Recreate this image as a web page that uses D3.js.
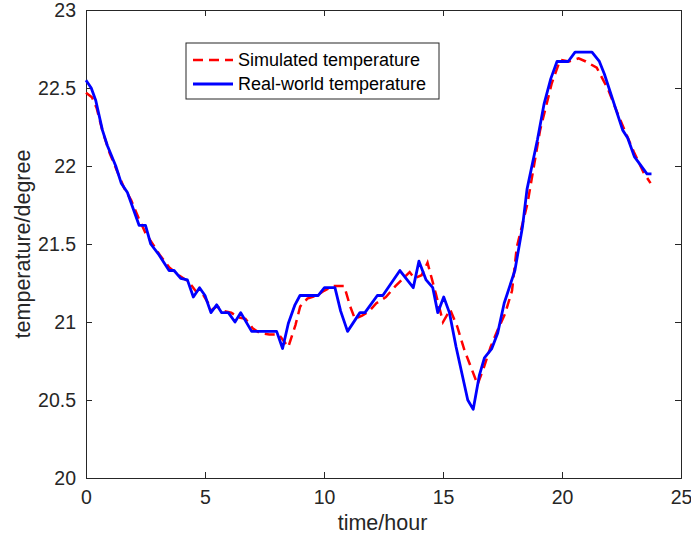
<!DOCTYPE html>
<html><head><meta charset="utf-8">
<script src="https://cdn.jsdelivr.net/npm/d3@7"></script>
<style>body{margin:0;background:#fff}svg{display:block}</style>
</head><body><svg id="c" width="691" height="541"></svg>
<script>
const seriesNames = ["Simulated temperature", "Real-world temperature"];
const xTicks = [0, 5, 10, 15, 20, 25];
const yTicks = [20, 20.5, 21, 21.5, 22, 22.5, 23];

const realT = [0,0.22,0.41,0.69,0.9,1.25,1.48,1.74,2.23,2.5,2.72,3.07,3.49,3.7,3.98,4.26,4.51,4.77,5.0,5.25,5.49,5.7,5.98,6.26,6.5,6.96,8.01,8.26,8.5,8.78,8.99,9.76,10.02,10.46,10.7,10.99,11.51,11.72,12.24,12.47,13.19,13.75,13.99,14.29,14.57,14.78,15.03,15.27,15.55,16.04,16.27,16.53,16.74,17.05,17.3,17.57,18.02,18.34,18.53,18.97,19.25,19.53,19.79,20.26,20.55,21.26,21.57,21.78,22.55,22.76,23.04,23.57,23.76];
const realV = [22.55,22.5,22.42,22.23,22.13,22.0,21.89,21.83,21.62,21.62,21.5,21.43,21.33,21.33,21.28,21.27,21.16,21.22,21.17,21.06,21.11,21.06,21.06,21.0,21.06,20.94,20.94,20.83,20.99,21.11,21.17,21.17,21.22,21.22,21.07,20.94,21.06,21.06,21.17,21.17,21.33,21.22,21.39,21.27,21.22,21.06,21.16,21.06,20.84,20.5,20.44,20.66,20.77,20.83,20.93,21.12,21.33,21.61,21.85,22.17,22.4,22.56,22.67,22.67,22.73,22.73,22.67,22.59,22.23,22.18,22.06,21.95,21.95];

const simT = [0,0.25,0.45,0.7,1.0,1.3,1.6,1.9,2.2,2.5,2.8,3.1,3.5,3.9,4.3,4.6,4.9,5.3,5.5,5.8,6.1,6.4,6.7,7.0,7.3,7.7,8.1,8.3,8.5,8.8,9.0,9.3,9.7,10.0,10.4,10.85,11.1,11.3,11.6,11.9,12.2,12.6,13.0,13.6,13.8,14.1,14.35,14.7,15.0,15.3,15.6,15.9,16.2,16.45,16.7,17.0,17.3,17.6,17.9,18.1,18.55,19.08,19.57,19.92,20.3,20.7,21.0,21.46,21.94,22.3,22.6,23.02,23.42,23.72];
const simV = [22.47,22.44,22.37,22.22,22.08,21.97,21.86,21.78,21.67,21.57,21.5,21.43,21.35,21.3,21.26,21.2,21.18,21.08,21.1,21.07,21.06,21.03,21.02,20.96,20.93,20.92,20.92,20.88,20.84,20.98,21.1,21.15,21.17,21.2,21.23,21.23,21.1,21.02,21.04,21.07,21.12,21.16,21.23,21.32,21.28,21.3,21.38,21.18,21.0,21.08,20.97,20.82,20.7,20.6,20.7,20.84,20.95,21.05,21.2,21.48,21.76,22.23,22.53,22.68,22.67,22.69,22.67,22.63,22.49,22.35,22.24,22.09,21.96,21.89];

const svg = d3.select("#c");
const L = 86, R = 681, T = 10, B = 478;
const x = d3.scaleLinear().domain([0, 25]).range([L, R]);
const y = d3.scaleLinear().domain([20, 23]).range([B, T]);
const axisColor = "#262626";
const font = "Liberation Sans, Arial, sans-serif";

svg.append("rect").attr("x", L).attr("y", T).attr("width", R - L).attr("height", B - T).attr("fill", "#fff");

function styleAxis(g, hideLabels) {
  g.select(".domain").attr("stroke", axisColor).attr("stroke-width", 1);
  g.selectAll(".tick line").attr("stroke", axisColor).attr("stroke-width", 1);
  g.selectAll(".tick text").attr("fill", axisColor).style("font-family", font).style("font-size", "19.5px");
  if (hideLabels) g.selectAll(".tick text").remove();
}
const xb = svg.append("g").attr("transform", `translate(0,${B})`)
  .call(d3.axisBottom(x).tickValues(xTicks).tickSize(-6).tickPadding(12).tickFormat(d3.format("d")));
styleAxis(xb);
const xt = svg.append("g").attr("transform", `translate(0,${T})`)
  .call(d3.axisTop(x).tickValues(xTicks).tickSize(-6));
styleAxis(xt, true);
const yl = svg.append("g").attr("transform", `translate(${L},0)`)
  .call(d3.axisLeft(y).tickValues(yTicks).tickSize(-6).tickPadding(10).tickFormat(d => String(d)));
styleAxis(yl);
const yr = svg.append("g").attr("transform", `translate(${R},0)`)
  .call(d3.axisRight(y).tickValues(yTicks).tickSize(-6));
styleAxis(yr, true);

const simData = simT.map((t, i) => [t, simV[i]]);
const realData = realT.map((t, i) => [t, realV[i]]);
const line = d3.line().x(d => x(d[0])).y(d => y(d[1]));

svg.append("path").datum(simData).attr("d", line).attr("fill", "none")
  .attr("stroke", "#ff0000").attr("stroke-width", 2.5).attr("stroke-dasharray", "10,6");
svg.append("path").datum(realData).attr("d", line).attr("fill", "none")
  .attr("stroke", "#0000ff").attr("stroke-width", 2.8).attr("stroke-linejoin", "round");

svg.append("text").attr("x", (L + R) / 2 - 1).attr("y", 530).attr("text-anchor", "middle")
  .attr("fill", axisColor).style("font-family", font).style("font-size", "21.5px").text("time/hour");
svg.append("text").attr("transform", `translate(30,${(T + B) / 2}) rotate(-90)`).attr("text-anchor", "middle")
  .attr("fill", axisColor).style("font-family", font).style("font-size", "21.5px").text("temperature/degree");

const lg = svg.append("g");
lg.append("rect").attr("x", 186).attr("y", 43).attr("width", 253).attr("height", 56)
  .attr("fill", "#fff").attr("stroke", axisColor).attr("stroke-width", 1);
const rows = [
  {name: seriesNames[0], color: "#ff0000", dash: "10,6", w: 2.5, cy: 60},
  {name: seriesNames[1], color: "#0000ff", dash: null, w: 2.8, cy: 84}
];
rows.forEach(r => {
  lg.append("line").attr("x1", 193).attr("x2", 233).attr("y1", r.cy).attr("y2", r.cy)
    .attr("stroke", r.color).attr("stroke-width", r.w).attr("stroke-dasharray", r.dash);
  lg.append("text").attr("x", 238).attr("y", r.cy + 6).attr("fill", "#000")
    .style("font-family", font).style("font-size", "18px").text(r.name);
});
</script></body></html>
